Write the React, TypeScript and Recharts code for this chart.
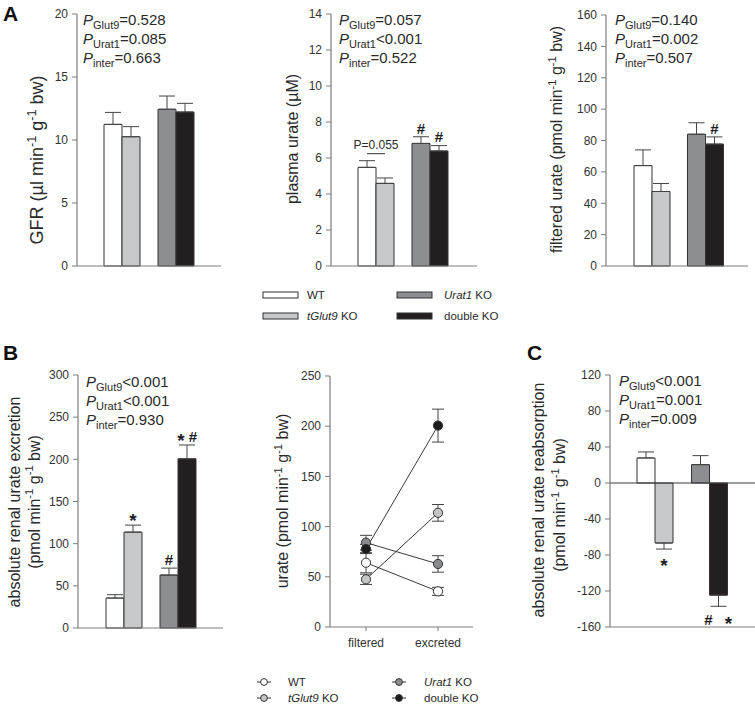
import React from 'react';
import {
  Bar,
  BarChart,
  Cell,
  ErrorBar,
  LabelList,
  Line,
  LineChart,
  ReferenceLine,
  XAxis,
  YAxis,
} from 'recharts';

const FONT = '"Liberation Sans", Arial, Helvetica, sans-serif';
const INK = '#2a2a2a';
const AXIS = '#7c7c7c';
const TICK = { fontSize: 12, fill: '#333', fontFamily: FONT };

// genotypes, in the order of the bars
const genotypes = ['WT', 'tGlut9 KO', 'Urat1 KO', 'double KO'];
const italicGene = [false, true, true, false];
const barFills = ['#ffffff', '#c7c8ca', '#8d8e91', '#231f20'];
const pairGroups = ['control', 'Urat1'];
const statNames = ['Glut9', 'Urat1', 'inter'];

// A: GFR
const gfrMean = [11.24, 10.26, 12.44, 12.22];
const gfrSem = [0.95, 0.8, 1.05, 0.69];
const gfrMarks = ['', '', '', ''];
const gfrStats = ['=0.528', '=0.085', '=0.663'];

// A: plasma urate
const plasmaMean = [5.48, 4.59, 6.81, 6.39];
const plasmaSem = [0.37, 0.3, 0.37, 0.3];
const plasmaMarks = ['', '', '#', '#'];
const plasmaStats = ['=0.057', '<0.001', '=0.522'];

// A: filtered urate
const filteredMean = [64, 47.5, 84, 77.7];
const filteredSem = [10, 5.1, 7.3, 4.6];
const filteredMarks = ['', '', '', '#'];
const filteredStats = ['=0.140', '=0.002', '=0.507'];

// B: excretion
const excretionMean = [35.5, 113.7, 62.8, 200.6];
const excretionSem = [4, 8.3, 8.2, 16.4];
const excretionMarks = ['', '*', '#', '* #'];
const excretionStats = ['<0.001', '<0.001', '=0.930'];

// B: filtered vs excreted
const stages = ['filtered', 'excreted'];
const markerFills = ['#ffffff', '#c4c5c7', '#8a8b8e', '#1e1b1c'];

// C: reabsorption
const reabsMean = [27.8, -66.7, 20.4, -124.6];
const reabsSem = [6.7, 6.7, 10, 12.4];
const reabsMarks = ['', '*', '', '# *'];
const reabsStats = ['<0.001', '=0.001', '=0.009'];

const YW = 84;
const MT = 10;
const MB = 8;
const XH = 2;

const errFor = (m: number, s: number) => (m < 0 ? [s, 0] : [0, s]);

function pairRows(mean: number[], sem: number[], marks: string[]) {
  return pairGroups.map((group, i) => {
    const a = 2 * i;
    const b = 2 * i + 1;
    return {
      group,
      left: mean[a],
      right: mean[b],
      leftSem: sem[a],
      rightSem: sem[b],
      leftErr: errFor(mean[a], sem[a]),
      rightErr: errFor(mean[b], sem[b]),
      leftMark: marks[a],
      rightMark: marks[b],
    };
  });
}

function Rich({ text, size }: { text: string; size: number }) {
  const parts = text.split('^');
  const shift = size * 0.38;
  return (
    <>
      {parts.map((p, i) =>
        i % 2 ? (
          <tspan key={i} fontSize={size * 0.7} dy={-shift}>
            {p}
          </tspan>
        ) : (
          <tspan key={i} dy={i ? shift : 0}>
            {p}
          </tspan>
        ),
      )}
    </>
  );
}

type TitleLine = { x: number; cy: number; text: string };
type DecorCfg = {
  ox: number;
  oy: number;
  lines: TitleLine[];
  size: number;
  stats?: string[];
  statsAt?: [number, number];
};

function Decor({ cfg }: { cfg: DecorCfg }) {
  const { ox, oy, lines, size, stats, statsAt } = cfg;
  return (
    <g fontFamily={FONT} fill={INK}>
      {lines.map((ln, i) => (
        <text
          key={i}
          transform={`translate(${ln.x - ox},${ln.cy - oy}) rotate(-90)`}
          textAnchor='middle'
          fontSize={size}
        >
          <Rich text={ln.text} size={size} />
        </text>
      ))}
      {stats &&
        statsAt &&
        stats.map((s, i) => (
          <text key={`s${i}`} x={statsAt[0] - ox} y={statsAt[1] - oy + i * 19} fontSize={15}>
            <tspan fontStyle='italic'>P</tspan>
            <tspan fontSize={11} dy={3.5}>
              {statNames[i]}
            </tspan>
            <tspan dy={-3.5}>{s}</tspan>
          </text>
        ))}
    </g>
  );
}

type BarCfg = {
  left: number;
  top: number;
  plotW: number;
  plotH: number;
  domain: [number, number];
  ticks: number[];
  pad: [number, number];
  mean: number[];
  sem: number[];
  marks: string[];
  markGap: number;
  lines: TitleLine[];
  titleSize: number;
  stats: string[];
  statsAt: [number, number];
  bracket?: string;
  zeroLine?: boolean;
};

const markRenderer = (rows: any[], side: 'left' | 'right', cfg: BarCfg) => (props: any) => {
  const row = rows[props.index];
  if (!row) return null;
  const mark: string = row[`${side}Mark`];
  const bracket = side === 'left' && props.index === 0 ? cfg.bracket : undefined;
  if (!mark && !bracket) return null;
  const vb = props.viewBox && props.viewBox.width != null ? props.viewBox : props;
  const x = Number(vb.x);
  const y = Number(vb.y);
  const w = Number(vb.width);
  const h = Number(vb.height);
  const val: number = row[side];
  const sem: number = row[`${side}Sem`];
  const pxPer = Math.abs(h) / Math.abs(val);
  const top = Math.min(y, y + h);
  const bottom = Math.max(y, y + h);
  const cx = x + w / 2;
  const errPx = sem * pxPer;
  const tokens = (mark || '').split(' ').filter(Boolean);
  const centerY = val >= 0 ? top - errPx - 8.5 : bottom + errPx + 13;
  return (
    <g fontFamily={FONT} fill='#1e1e1e'>
      {tokens.map((t, k) => {
        const star = t === '*';
        return (
          <text
            key={k}
            x={cx + (k - (tokens.length - 1) / 2) * cfg.markGap}
            y={centerY + (star ? 10.3 : 5.3)}
            fontSize={star ? 19 : 15}
            fontWeight='bold'
            textAnchor='middle'
          >
            {t}
          </text>
        );
      })}
      {bracket && (
        <>
          <line x1={cx} x2={cx + w} y1={top - errPx - 7} y2={top - errPx - 7} stroke='#333' strokeWidth={1} />
          <text x={cx + w / 2} y={top - errPx - 12} fontSize={12} textAnchor='middle' fill={INK}>
            {bracket}
          </text>
        </>
      )}
    </g>
  );
};

function BarPanel({ cfg }: { cfg: BarCfg }) {
  const rows = pairRows(cfg.mean, cfg.sem, cfg.marks);
  const ox = cfg.left - YW;
  const oy = cfg.top - MT;
  const decor: DecorCfg = { ox, oy, lines: cfg.lines, size: cfg.titleSize, stats: cfg.stats, statsAt: cfg.statsAt };
  return (
    <div style={{ position: 'absolute', left: ox, top: oy }}>
      <BarChart
        width={YW + cfg.plotW}
        height={MT + cfg.plotH + XH + MB}
        data={rows}
        margin={{ top: MT, right: 0, bottom: MB, left: 0 }}
        barGap={0}
        barSize={18}
      >
        <XAxis
          dataKey='group'
          tick={false}
          tickLine={false}
          axisLine={{ stroke: AXIS, strokeWidth: 1.2 }}
          height={XH}
          padding={{ left: cfg.pad[0], right: cfg.pad[1] }}
        />
        <YAxis
          width={YW}
          domain={cfg.domain}
          ticks={cfg.ticks}
          interval={0}
          tickSize={5}
          tickMargin={4}
          tick={TICK}
          tickLine={{ stroke: AXIS }}
          axisLine={{ stroke: AXIS, strokeWidth: 1.2 }}
          label={<Decor cfg={decor} />}
        />
        {cfg.zeroLine && <ReferenceLine y={0} stroke='#3a3a3a' strokeWidth={1} />}
        <Bar dataKey='left' stroke='#333' strokeWidth={1} barSize={18} isAnimationActive={false}>
          {rows.map((r, i) => (
            <Cell key={r.group} fill={barFills[2 * i]} />
          ))}
          <ErrorBar dataKey='leftErr' width={8} stroke='#444' strokeWidth={1} direction='y' />
          <LabelList dataKey='leftMark' content={markRenderer(rows, 'left', cfg)} />
        </Bar>
        <Bar dataKey='right' stroke='#333' strokeWidth={1} barSize={18} isAnimationActive={false}>
          {rows.map((r, i) => (
            <Cell key={r.group} fill={barFills[2 * i + 1]} />
          ))}
          <ErrorBar dataKey='rightErr' width={8} stroke='#444' strokeWidth={1} direction='y' />
          <LabelList dataKey='rightMark' content={markRenderer(rows, 'right', cfg)} />
        </Bar>
      </BarChart>
    </div>
  );
}

const UNITS = '(pmol min^-1^ g^-1^ bw)';

const panels: BarCfg[] = [
  {
    left: 77, top: 14, plotW: 144, plotH: 252, domain: [0, 20], ticks: [0, 5, 10, 15, 20], pad: [18, 18],
    mean: gfrMean, sem: gfrSem, marks: gfrMarks, markGap: 12,
    lines: [{ x: 43, cy: 160, text: 'GFR (µl min^-1^ g^-1^ bw)' }], titleSize: 18,
    stats: gfrStats, statsAt: [83, 25],
  },
  {
    left: 331, top: 14, plotW: 146, plotH: 252, domain: [0, 14], ticks: [0, 2, 4, 6, 8, 10, 12, 14], pad: [18, 20],
    mean: plasmaMean, sem: plasmaSem, marks: plasmaMarks, markGap: 12,
    lines: [{ x: 298, cy: 139, text: 'plasma urate (µM)' }], titleSize: 16,
    stats: plasmaStats, statsAt: [339, 25], bracket: 'P=0.055',
  },
  {
    left: 606, top: 15, plotW: 142, plotH: 251, domain: [0, 160], ticks: [0, 20, 40, 60, 80, 100, 120, 140, 160], pad: [19, 16],
    mean: filteredMean, sem: filteredSem, marks: filteredMarks, markGap: 12,
    lines: [{ x: 562, cy: 139.5, text: `filtered urate ${UNITS}` }], titleSize: 16,
    stats: filteredStats, statsAt: [615, 25],
  },
  {
    left: 78, top: 375, plotW: 145, plotH: 253, domain: [0, 300], ticks: [0, 50, 100, 150, 200, 250, 300], pad: [19, 18],
    mean: excretionMean, sem: excretionSem, marks: excretionMarks, markGap: 12,
    lines: [
      { x: 20, cy: 502, text: 'absolute renal urate excretion' },
      { x: 39.5, cy: 502, text: UNITS },
    ],
    titleSize: 16, stats: excretionStats, statsAt: [86, 387],
  },
  {
    left: 610, top: 375, plotW: 145, plotH: 252, domain: [-160, 120], ticks: [-160, -120, -80, -40, 0, 40, 80, 120], pad: [18, 18],
    mean: reabsMean, sem: reabsSem, marks: reabsMarks, markGap: 20,
    lines: [
      { x: 544, cy: 500, text: 'absolute renal urate reabsorption' },
      { x: 565, cy: 505, text: UNITS },
    ],
    titleSize: 16, stats: reabsStats, statsAt: [619, 386], zeroLine: true,
  },
];

const URATE_BOX = { left: 330, top: 376, w: 143, h: 251, xh: 30 };

function urateRows() {
  return stages.map((stage, k) => {
    const row: Record<string, any> = { stage };
    genotypes.forEach((_, i) => {
      row[`g${i}`] = k === 0 ? filteredMean[i] : excretionMean[i];
      row[`g${i}Err`] = k === 0 ? filteredSem[i] : excretionSem[i];
    });
    return row;
  });
}

// one layer of the filtered/excreted chart; the two layers share the same axes
function UrateLayer({ markers }: { markers: boolean }) {
  const { left, top, w, h, xh } = URATE_BOX;
  const ox = left - YW;
  const oy = top - MT;
  const rows = urateRows();
  const decor: DecorCfg = { ox, oy, lines: [{ x: 288, cy: 501, text: `urate ${UNITS}` }], size: 16 };
  return (
    <div style={{ position: 'absolute', left: ox, top: oy, pointerEvents: markers ? 'none' : 'auto' }}>
      <LineChart width={YW + w} height={MT + h + xh} data={rows} margin={{ top: MT, right: 0, bottom: 0, left: 0 }}>
        <XAxis
          dataKey='stage'
          height={xh}
          padding={{ left: 36, right: 35 }}
          tick={markers ? false : TICK}
          tickSize={4}
          tickMargin={7}
          tickLine={markers ? false : { stroke: AXIS }}
          axisLine={markers ? false : { stroke: AXIS, strokeWidth: 1.2 }}
        />
        <YAxis
          width={YW}
          domain={[0, 250]}
          ticks={[0, 50, 100, 150, 200, 250]}
          interval={0}
          tickSize={5}
          tickMargin={4}
          tick={markers ? false : TICK}
          tickLine={markers ? false : { stroke: AXIS }}
          axisLine={markers ? false : { stroke: AXIS, strokeWidth: 1.2 }}
          label={markers ? undefined : <Decor cfg={decor} />}
        />
        {genotypes.map((g, i) =>
          markers ? (
            <Line
              key={g}
              dataKey={`g${i}`}
              stroke='none'
              dot={{ r: 4.6, fill: markerFills[i], stroke: '#333', strokeWidth: 1 }}
              activeDot={false}
              isAnimationActive={false}
            />
          ) : (
            <Line
              key={g}
              dataKey={`g${i}`}
              stroke='#3a3a3a'
              strokeWidth={1}
              dot={false}
              activeDot={false}
              isAnimationActive={false}
            >
              <ErrorBar dataKey={`g${i}Err`} width={6} stroke='#444' strokeWidth={1} direction='y' />
            </Line>
          ),
        )}
      </LineChart>
    </div>
  );
}

function GenotypeLabel({ x, y, i }: { x: number; y: number; i: number }) {
  const [gene, ...rest] = genotypes[i].split(' ');
  return (
    <text x={x} y={y} dy='0.35em' fontSize={11.5} fill={INK}>
      <tspan fontStyle={italicGene[i] ? 'italic' : 'normal'}>{gene}</tspan>
      {rest.length ? ` ${rest.join(' ')}` : ''}
    </text>
  );
}

function Overlay() {
  return (
    <svg width={755} height={715} style={{ position: 'absolute', left: 0, top: 0 }} fontFamily={FONT}>
      <text x={3} y={21} fontSize={21} fontWeight='bold' fill='#111'>A</text>
      <text x={3} y={360} fontSize={21} fontWeight='bold' fill='#111'>B</text>
      <text x={527} y={360} fontSize={21} fontWeight='bold' fill='#111'>C</text>
      {genotypes.map((g, i) => {
        const col = Math.floor(i / 2);
        const row = i % 2;
        const sx = col ? 397 : 263;
        const tx = col ? 444 : 307;
        const cy = 295 + row * 21;
        return (
          <g key={g}>
            <rect x={sx} y={cy - 3} width={35} height={6} fill={barFills[i]} stroke='#333' strokeWidth={1} />
            <GenotypeLabel x={tx} y={cy} i={i} />
          </g>
        );
      })}
      {genotypes.map((g, i) => {
        const col = Math.floor(i / 2);
        const row = i % 2;
        const mx = col ? 399 : 264;
        const tx = col ? 424 : 288;
        const cy = 682 + row * 16;
        return (
          <g key={`m${g}`}>
            <line x1={mx - 7} x2={mx + 7} y1={cy} y2={cy} stroke='#333' strokeWidth={1} />
            <circle cx={mx} cy={cy} r={3.4} fill={markerFills[i]} stroke='#333' strokeWidth={1} />
            <GenotypeLabel x={tx} y={cy} i={i} />
          </g>
        );
      })}
    </svg>
  );
}

export default function App() {
  return (
    <div
      style={{
        position: 'absolute',
        left: 0,
        top: 0,
        width: 755,
        height: 715,
        background: '#fff',
        overflow: 'hidden',
        fontFamily: FONT,
      }}
    >
      <Overlay />
      {panels.map((p, i) => (
        <BarPanel key={i} cfg={p} />
      ))}
      <UrateLayer markers={false} />
      <UrateLayer markers />
    </div>
  );
}
